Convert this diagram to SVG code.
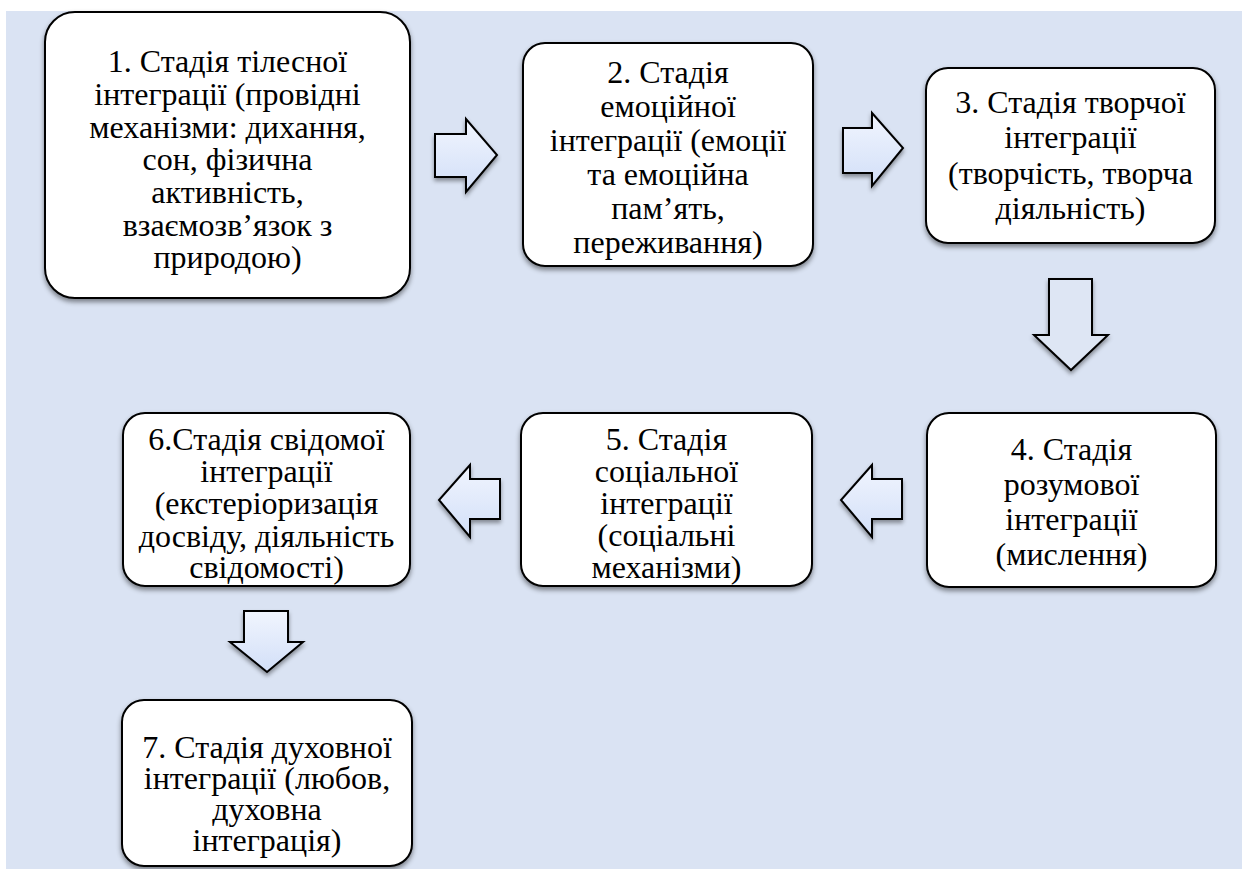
<svg xmlns="http://www.w3.org/2000/svg" width="1242" height="869" viewBox="0 0 1242 869">
<defs>
<style>
.box{fill:#ffffff;stroke:#000;stroke-width:2;filter:url(#sh);}
.arr{stroke:#000;stroke-width:2;filter:url(#sh2);}
.lbl{font-family:'Times New Roman','Liberation Serif','DejaVu Serif',serif;font-size:32px;fill:#000;text-anchor:middle;}
</style>
<linearGradient id="ag" x1="0" y1="0" x2="0" y2="1">
<stop offset="0" stop-color="#f1f5fe"/>
<stop offset="1" stop-color="#d2dff8"/>
</linearGradient>
<filter id="sh" x="-10%" y="-10%" width="120%" height="130%">
<feDropShadow dx="0" dy="3" stdDeviation="2.5" flood-color="#000" flood-opacity="0.45"/>
</filter>
<filter id="sh2" x="-20%" y="-20%" width="140%" height="150%">
<feDropShadow dx="0" dy="3" stdDeviation="2" flood-color="#000" flood-opacity="0.4"/>
</filter>
</defs>
<rect x="0" y="0" width="1242" height="869" fill="#ffffff"/>
<rect x="6" y="11" width="1236" height="858" fill="#dae3f3"/>

<g id="connectors">
<polygon class="arr" fill="url(#ag)" points="435,134 466,134 466,119 497,155 466,192 466,177 435,177"/>
<polygon class="arr" fill="url(#ag)" points="843,128 872,128 872,113 903,148 872,186 872,173 843,173"/>
<polygon class="arr" fill="#dee6f4" points="1049,279 1092,279 1092,335 1108,335 1071,370 1034,335 1049,335"/>
<polygon class="arr" fill="url(#ag)" points="902,479 872,479 872,465 841,500 872,537 872,519 902,519"/>
<polygon class="arr" fill="url(#ag)" points="500,479 470,479 470,465 439,500 470,537 470,519 500,519"/>
<polygon class="arr" fill="url(#ag)" points="244,611 288,611 288,642 303,642 267,672 230,642 244,642"/>
</g>

<g id="node1">
<rect class="box" x="45" y="12" width="365" height="286" rx="30"/>
<text class="lbl" x="227.5" y="72">1. Стадія тілесної</text>
<text class="lbl" x="227.5" y="105">інтеграції (провідні</text>
<text class="lbl" x="227.5" y="138">механізми: дихання,</text>
<text class="lbl" x="227.5" y="170">сон, фізична</text>
<text class="lbl" x="227.5" y="203">активність,</text>
<text class="lbl" x="227.5" y="236">взаємозв’язок з</text>
<text class="lbl" x="227.5" y="268">природою)</text>
</g>
<g id="node2">
<rect class="box" x="523" y="43" width="290" height="223" rx="22"/>
<text class="lbl" x="668" y="83">2. Стадія</text>
<text class="lbl" x="668" y="117">емоційної</text>
<text class="lbl" x="668" y="151">інтеграції (емоції</text>
<text class="lbl" x="668" y="185">та емоційна</text>
<text class="lbl" x="668" y="219">пам’ять,</text>
<text class="lbl" x="668" y="253">переживання)</text>
</g>
<g id="node3">
<rect class="box" x="926" y="68" width="289" height="175" rx="22"/>
<text class="lbl" x="1070.5" y="113">3. Стадія творчої</text>
<text class="lbl" x="1070.5" y="148">інтеграції</text>
<text class="lbl" x="1070.5" y="184">(творчість, творча</text>
<text class="lbl" x="1070.5" y="219">діяльність)</text>
</g>
<g id="node4">
<rect class="box" x="927" y="413" width="289" height="174" rx="22"/>
<text class="lbl" x="1071.5" y="460">4. Стадія</text>
<text class="lbl" x="1071.5" y="495">розумової</text>
<text class="lbl" x="1071.5" y="530">інтеграції</text>
<text class="lbl" x="1071.5" y="565">(мислення)</text>
</g>
<g id="node5">
<rect class="box" x="521" y="413" width="291" height="173" rx="22"/>
<text class="lbl" x="666.5" y="450">5. Стадія</text>
<text class="lbl" x="666.5" y="482">соціальної</text>
<text class="lbl" x="666.5" y="514">інтеграції</text>
<text class="lbl" x="666.5" y="546">(соціальні</text>
<text class="lbl" x="666.5" y="578">механізми)</text>
</g>
<g id="node6">
<rect class="box" x="123" y="413" width="287" height="173" rx="22"/>
<text class="lbl" x="266.5" y="450">6.Стадія свідомої</text>
<text class="lbl" x="266.5" y="482">інтеграції</text>
<text class="lbl" x="266.5" y="514">(екстеріоризація</text>
<text class="lbl" x="266.5" y="547">досвіду, діяльність</text>
<text class="lbl" x="266.5" y="578">свідомості)</text>
</g>
<g id="node7">
<rect class="box" x="122" y="700" width="290" height="166" rx="22"/>
<text class="lbl" x="267" y="758">7. Стадія духовної</text>
<text class="lbl" x="267" y="789">інтеграції (любов,</text>
<text class="lbl" x="267" y="820">духовна</text>
<text class="lbl" x="267" y="851">інтеграція)</text>
</g>
</svg>
